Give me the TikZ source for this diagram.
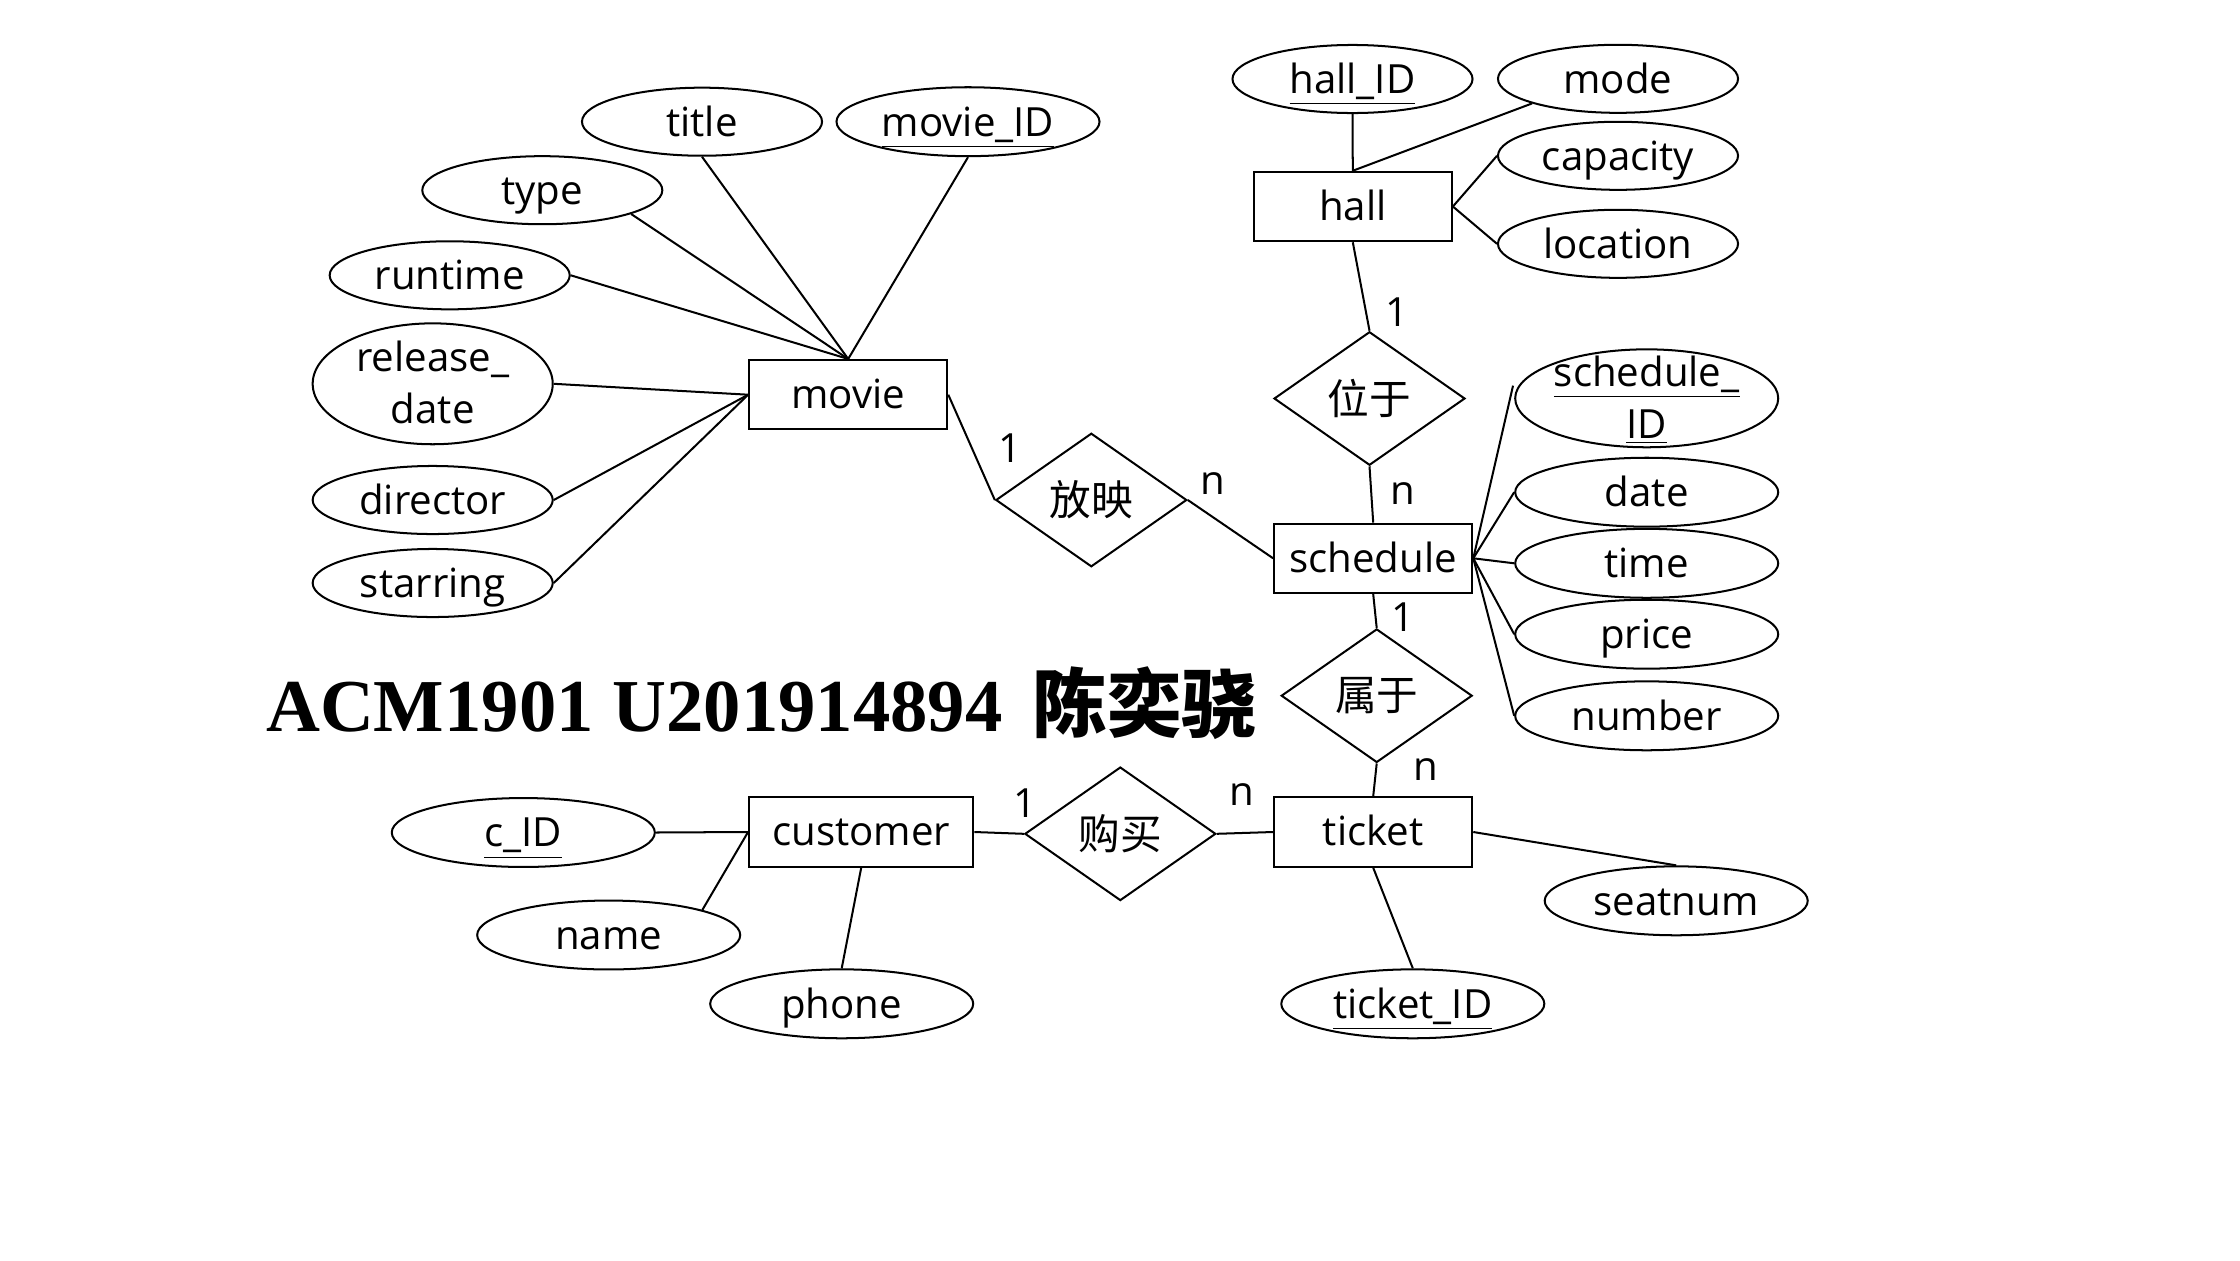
\documentclass[tikz,border=0pt]{standalone}
\usepackage{fontspec}
\setmainfont{Open Sans}
\newfontfamily\cjk{Noto Sans CJK SC}
\newfontfamily\titlefont{Liberation Serif}
\usetikzlibrary{shapes.geometric}
\begin{document}
\begin{tikzpicture}[x=0.348214pt,y=-0.348214pt,
  every node/.style={font=\fontsize{14}{18}\selectfont},
  ent/.style={draw, line width=0.7pt, rectangle, minimum width=69pt, minimum height=24.2pt, inner sep=0pt, text height=12pt, text depth=2.4pt},
  rel/.style={draw, line width=0.7pt, diamond, minimum width=66.5pt, minimum height=46.5pt, inner sep=0pt, font=\cjk\fontsize{14.5}{14.5}\selectfont},
  attr/.style={draw, line width=0.7pt, ellipse, minimum width=83.6pt, minimum height=23.7pt, inner sep=0pt, text height=12pt, text depth=2pt},
  wattr/.style={attr, minimum width=91.6pt, minimum height=24pt},
  txt/.style={inner sep=0pt, anchor=base},
  card/.style={inner sep=0pt},
  link/.style={line width=0.7pt}]
\useasboundingbox (0,0) rectangle (2240,1260);
\fill[white] (0,0) rectangle (2240,1260);

% entities
\node[ent] (movie) at (848.2,394.7) {movie};
\node[ent] (hall) at (1352.8,206.5) {hall};
\node[ent] (schedule) at (1373.2,558.3) {schedule};
\node[ent, minimum width=78.1pt] (customer) at (861.2,832) {customer};
\node[ent] (ticket) at (1373.2,832) {ticket};

% relationships
\node[rel] (fy) at (1091.3,500) {放映};
\node[rel] (wy) at (1369.5,398.5) {位于};
\node[rel] (sy) at (1376.7,695.7) {属于};
\node[rel] (gm) at (1120.3,833.8) {购买};

% movie attributes
\node[attr] (title) at (702,121.7) {title};
\node[wattr] (mid) at (968,121.7) {\underline{movie\_ID}};
\node[attr] (type) at (542.3,190.2) {type};
\node[attr] (runtime) at (449.7,275.3) {runtime};
\node[attr, minimum height=42.1pt] (rdate) at (432.7,383.8) {};
\node[txt] (rdatea) at (432.7,371.7) {release\_};
\node[txt] (rdateb) at (432.7,423.3) {date};
\node[attr] (director) at (432.7,500) {director};
\node[attr] (starring) at (432.7,583) {starring};

% hall attributes
\node[attr] (hid) at (1352.5,79) {\underline{hall\_ID}};
\node[attr] (mode) at (1618,78.8) {mode};
\node[attr] (capacity) at (1618,155.8) {capacity};
\node[attr] (location) at (1618,243.8) {location};

% schedule attributes
\node[wattr, minimum height=34.1pt] (sid) at (1646.7,398.3) {};
\node[txt] (sida) at (1646.7,386.7) {\underline{schedule\_}};
\node[txt] (sidb) at (1646.7,438.3) {\underline{ID}};
\node[wattr] (date) at (1646.7,492.2) {date};
\node[wattr] (time) at (1646.7,563.3) {time};
\node[wattr] (price) at (1646.7,634.2) {price};
\node[wattr] (number) at (1646.7,715.8) {number};

% customer attributes
\node[wattr] (cid) at (523.3,832.5) {\underline{c\_ID}};
\node[wattr] (name) at (608.7,935) {name};
\node[wattr] (phone) at (841.7,1003.8) {phone};

% ticket attributes
\node[wattr] (tid) at (1412.8,1003.8) {\underline{ticket\_ID}};
\node[wattr] (seat) at (1676.2,900.8) {seatnum};

% heading
\node[anchor=base west, inner sep=0pt, font=\titlefont\bfseries\fontsize{26}{26}\selectfont] (heading) at (265.6,731.7) {ACM1901 U201914894\hspace{4pt} {\cjk\bfseries 陈奕骁}};

% cardinalities
\node[card] (c1) at (1010,448.3) {1};
\node[card] (c2) at (1213.3,483.3) {n};
\node[card] (c3) at (1397.3,311.7) {1};
\node[card] (c4) at (1402.7,493.3) {n};
\node[card] (c5) at (1402.7,616.7) {1};
\node[card] (c6) at (1426,770) {n};
\node[card] (c7) at (1025,802.7) {1};
\node[card] (c8) at (1241.7,795) {n};

% connectors: movie
\draw[link] (title.south) -- (movie.north);
\draw[link] (mid.south) -- (movie.north);
\draw[link] (type.-15.6) -- (movie.north);
\draw[link] (runtime.east) -- (movie.north);
\draw[link] (rdate.east) -- (movie.west);
\draw[link] (director.east) -- (movie.west);
\draw[link] (starring.east) -- (movie.west);

% hall
\draw[link] (hid.south) -- (hall.north);
\draw[link] (mode.-164) -- (hall.north);
\draw[link] (hall.east) -- (capacity.west);
\draw[link] (hall.east) -- (location.west);

% schedule
\draw[link] (schedule.east) -- ([xshift=-0.4pt,yshift=4.4pt]sid.west);
\draw[link] (schedule.east) -- (date.west);
\draw[link] (schedule.east) -- (time.west);
\draw[link] (schedule.east) -- (price.west);
\draw[link] (schedule.east) -- (number.west);

% relationships
\draw[link] (movie.east) -- (fy.west);
\draw[link] (fy.east) -- (schedule.west);
\draw[link] (hall.south) -- (wy.north);
\draw[link] (wy.south) -- (schedule.north);
\draw[link] (schedule.south) -- (sy.north);
\draw[link] (sy.south) -- (ticket.north);
\draw[link] (customer.east) -- (gm.west);
\draw[link] (gm.east) -- (ticket.west);

% customer
\draw[link] (customer.west) -- (cid.east);
\draw[link] (customer.west) -- (name.15);
\draw[link] (customer.south) -- (phone.north);

% ticket
\draw[link] (ticket.east) -- (seat.north);
\draw[link] (ticket.south) -- (tid.north);
\end{tikzpicture}
\end{document}
